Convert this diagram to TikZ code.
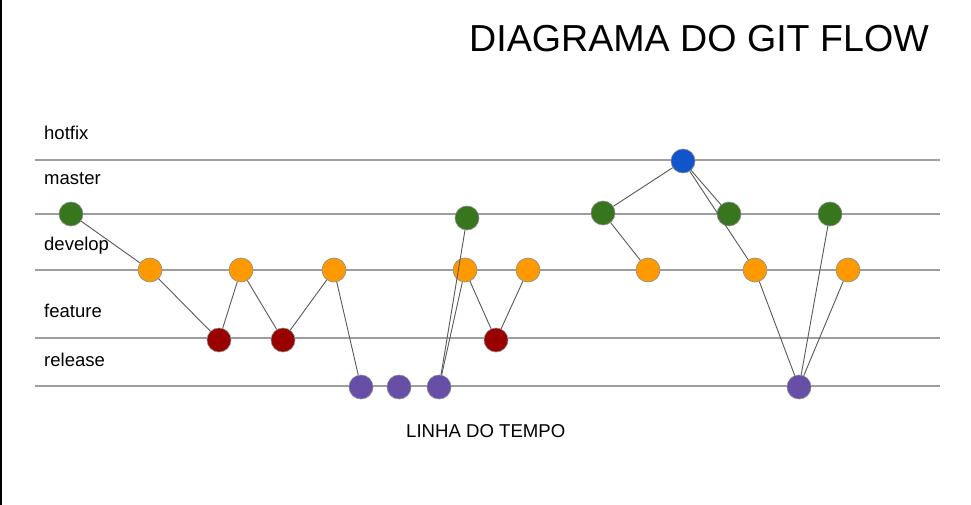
\documentclass[tikz,border=0pt]{standalone}
\usepackage{fontspec}
\setmainfont{Liberation Sans}

\definecolor{mastergreen}{HTML}{38761D}
\definecolor{developorange}{HTML}{FF9900}
\definecolor{featurered}{HTML}{990000}
\definecolor{releasepurple}{HTML}{674EA7}
\definecolor{hotfixblue}{HTML}{1155CC}

\tikzset{
  commit/.style={circle, draw=black!45, line width=0.6pt, minimum size=24pt, inner sep=0pt},
  lane/.style={draw=black!38, line width=1.4pt},
  link/.style={draw=black!65, line width=0.9pt},
  lanelabel/.style={anchor=base west, inner sep=0pt, font=\fontsize{18.5}{22}\selectfont}
}

\begin{document}
\begin{tikzpicture}[x=1pt, y=-1pt]
		\useasboundingbox (0,0) rectangle (971,505);
		\fill[white] (0,0) rectangle (971,505);
		\draw[black, line width=2pt] (1,0) -- (1,505);
		
		% Title
		\node[anchor=base west, inner sep=0pt, font=\fontsize{37.6}{44}\selectfont] (title) at (469,52) {DIAGRAMA DO GIT FLOW};
		
		% Lanes
		\draw[lane] (35,160) -- (940,160);
		\draw[lane] (35,214) -- (940,214);
		\draw[lane] (35,270) -- (940,270);
		\draw[lane] (35,338) -- (940,338);
		\draw[lane] (35,386) -- (940,386);
		
		\node[lanelabel] (lhotfix) at (44,140) {hotfix};
		\node[lanelabel] (lmaster) at (44,185) {master};
		\node[lanelabel] (ldevelop) at (44,250) {develop};
		\node[lanelabel] (lfeature) at (44,317) {feature};
		\node[lanelabel] (lrelease) at (44,366) {release};
		
		% Commits
		\node[commit, fill=mastergreen] (m1) at (71,214) {};
		\node[commit, fill=developorange] (d1) at (150,270) {};
		\node[commit, fill=featurered] (f1) at (219,340) {};
		\node[commit, fill=developorange] (d2) at (241,270) {};
		\node[commit, fill=featurered] (f2) at (283,340) {};
		\node[commit, fill=developorange] (d3) at (334,270) {};
		\node[commit, fill=releasepurple] (r1) at (361,387) {};
		\node[commit, fill=releasepurple] (r2) at (399,387) {};
		\node[commit, fill=releasepurple] (r3) at (439,387) {};
		\node[commit, fill=mastergreen] (m2) at (467,218) {};
		\node[commit, fill=developorange] (d4) at (465,270) {};
		\node[commit, fill=featurered] (f3) at (496,340) {};
		\node[commit, fill=developorange] (d5) at (528,270) {};
		\node[commit, fill=mastergreen] (m3) at (603,213) {};
		\node[commit, fill=hotfixblue] (h1) at (683,161) {};
		\node[commit, fill=developorange] (d6) at (648,270) {};
		\node[commit, fill=mastergreen] (m4) at (729,214) {};
		\node[commit, fill=developorange] (d7) at (755,270) {};
		\node[commit, fill=releasepurple] (r4) at (799,387) {};
		\node[commit, fill=mastergreen] (m5) at (830,214) {};
		\node[commit, fill=developorange] (d8) at (848,270) {};
		
		% Links
		\draw[link] (m1) -- (d1);
		\draw[link] (d1) -- (f1) -- (d2) -- (f2) -- (d3);
		\draw[link] (d3) -- (r1);
		\draw[link] (r3) -- (m2);
		\draw[link] (r3) -- (d4) -- (f3) -- (d5);
		\draw[link] (d6) -- (m3) -- (h1) -- (m4);
		\draw[link] (h1) -- (d7) -- (r4);
		\draw[link] (r4) -- (m5);
		\draw[link] (r4) -- (d8);
		
		\node[anchor=base west, inner sep=0pt, font=\fontsize{18.6}{22}\selectfont] (timeline) at (406,437) {LINHA DO TEMPO};
	\end{tikzpicture}
\end{document}
